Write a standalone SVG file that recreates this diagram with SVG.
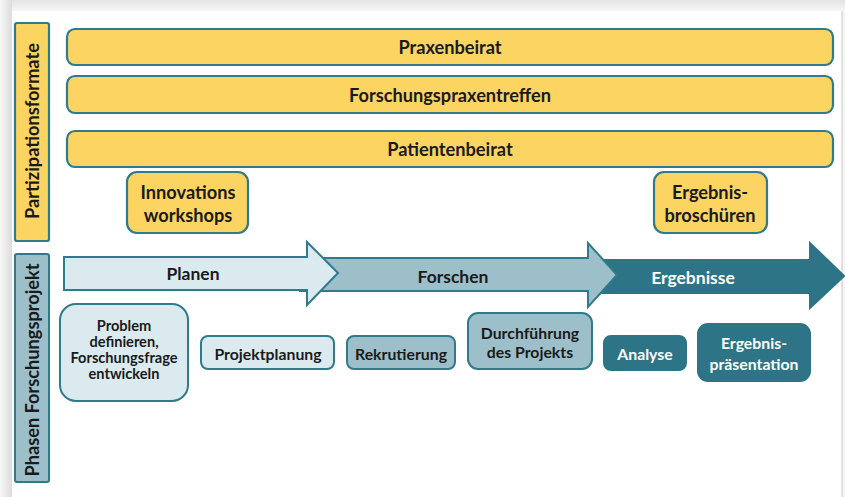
<svg xmlns="http://www.w3.org/2000/svg" width="845" height="497" viewBox="0 0 845 497">
<defs>
<linearGradient id="shTop" x1="0" y1="0" x2="0" y2="1"><stop offset="0" stop-color="#e4e4e4"/><stop offset="1" stop-color="#f8f8f8"/></linearGradient>
<linearGradient id="shLeft" x1="0" y1="0" x2="1" y2="0"><stop offset="0" stop-color="#f7f7f7"/><stop offset="1" stop-color="#dcdcdc"/></linearGradient>
<style>
text{font-family:Lato,"Open Sans","Liberation Sans",sans-serif;font-weight:bold;font-size:15.8px;text-anchor:middle;dominant-baseline:central;fill:#1a1a1a}
.big{font-size:18.2px}
.arr{font-size:17.5px}
.sm{font-size:14.6px}
.y{fill:#fbd462;stroke:#2f7a8b;stroke-width:2.2}
.l{fill:#dbeaef;stroke:#2f7a8b;stroke-width:2}
.m{fill:#9dbfca;stroke:#2f7a8b;stroke-width:2}
.d{fill:#2c7486;stroke:#2c7486;stroke-width:2}
.wt{fill:#ffffff}
</style>
</defs>
<rect x="0" y="0" width="845" height="497" fill="#f5f5f5"/>
<rect x="0" y="0" width="845" height="12" fill="url(#shTop)"/>
<rect x="0" y="0" width="12" height="497" fill="url(#shLeft)"/>
<rect x="12" y="11" width="830" height="486" fill="#ffffff"/>
<line x1="842" y1="11" x2="842" y2="497" stroke="#c8c8c8" stroke-width="1"/>

<g id="side-partizipation">
<rect class="y" x="15" y="23" width="34" height="218" rx="2"/>
<text class="big" transform="translate(32,131) rotate(-90)">Partizipationsformate</text>
</g>
<g id="side-phasen">
<rect class="m" x="15" y="254" width="34" height="228" rx="2"/>
<text class="big" transform="translate(32,370) rotate(-90)">Phasen Forschungsprojekt</text>
</g>

<g id="praxenbeirat">
<rect class="y" x="67" y="29" width="766" height="36" rx="8"/>
<text class="big" x="450" y="47">Praxenbeirat</text>
</g>
<g id="forschungspraxentreffen">
<rect class="y" x="67" y="76" width="766" height="37" rx="8"/>
<text class="big" x="450" y="95">Forschungspraxentreffen</text>
</g>
<g id="patientenbeirat">
<rect class="y" x="67" y="131" width="766" height="36" rx="8"/>
<text class="big" x="450" y="149">Patientenbeirat</text>
</g>
<g id="innovations">
<rect class="y" x="127" y="172" width="121" height="61" rx="10"/>
<text class="big" x="188" y="192">Innovations</text>
<text class="big" x="188" y="215">workshops</text>
</g>
<g id="broschueren">
<rect class="y" x="654" y="172" width="113" height="61" rx="10"/>
<text class="big" x="710" y="192">Ergebnis-</text>
<text class="big" x="710" y="215">broschüren</text>
</g>

<g id="arrow-ergebnisse">
<polygon class="d" points="600,260 810,260 810,243 844,276 810,308 810,293 600,293"/>
<text class="arr wt" x="693" y="277">Ergebnisse</text>
</g>
<g id="arrow-forschen">
<polygon class="m" points="300,258 588,258 588,243 617,275 588,307 588,291 300,291"/>
<text class="arr" x="453" y="276">Forschen</text>
</g>
<g id="arrow-planen">
<polygon class="l" points="64,257 307,257 307,242 338,273 307,305 307,290 64,290"/>
<text class="arr" x="193" y="273">Planen</text>
</g>

<g id="problem">
<rect class="l" x="60" y="304" width="128" height="97" rx="16"/>
<text class="sm" x="124" y="325">Problem</text>
<text class="sm" x="124" y="341">definieren,</text>
<text class="sm" x="124" y="357">Forschungsfrage</text>
<text class="sm" x="124" y="373">entwickeln</text>
</g>
<g id="projektplanung">
<rect class="l" x="201" y="336" width="133" height="33" rx="7"/>
<text x="268" y="353">Projektplanung</text>
</g>
<g id="rekrutierung">
<rect class="m" x="347" y="336" width="108" height="33" rx="7"/>
<text x="401" y="353">Rekrutierung</text>
</g>
<g id="durchfuehrung">
<rect class="m" x="468" y="313" width="124" height="56" rx="10"/>
<text x="530" y="332">Durchführung</text>
<text x="530" y="351">des Projekts</text>
</g>
<g id="analyse">
<rect class="d" x="604" y="336" width="82" height="34" rx="7"/>
<text class="wt" x="645" y="353">Analyse</text>
</g>
<g id="praesentation">
<rect class="d" x="698" y="324" width="112" height="57" rx="10"/>
<text class="wt" x="754" y="342">Ergebnis-</text>
<text class="wt" x="754" y="363">präsentation</text>
</g>
<g id="connectors"></g>
</svg>
